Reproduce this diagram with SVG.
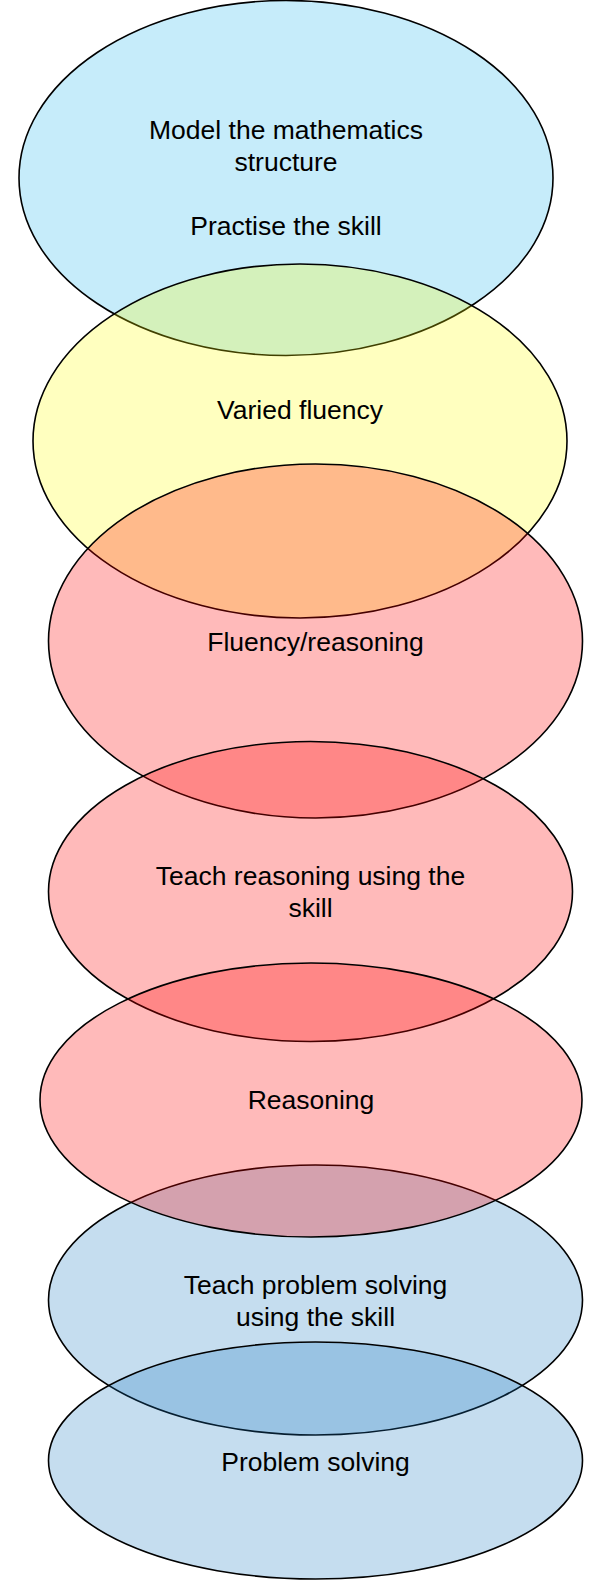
<svg xmlns="http://www.w3.org/2000/svg" width="594" height="1581" viewBox="0 0 594 1581">
<style>
  .e { stroke: #000; stroke-width: 1.6; }
  .blue { fill: rgb(27,179,235); fill-opacity: 0.25; }
  .yellow { fill: #FFFF00; fill-opacity: 0.25; }
  .red { fill: #FF0000; fill-opacity: 0.27; }
  .steel { fill: rgb(23,119,191); fill-opacity: 0.25; }
  text { font-family: "Liberation Sans", Arial, sans-serif; font-size: 26.5px; fill: #000; text-anchor: middle; }
</style>
<rect width="594" height="1581" fill="#FFFFFF"/>
<g id="node-model">
  <ellipse class="e blue" cx="286" cy="178" rx="267" ry="177.5"/>
  <text x="286" y="139">Model the mathematics</text>
  <text x="286" y="171">structure</text>
  <text x="286" y="235">Practise the skill</text>
</g>
<g id="node-varied-fluency">
  <ellipse class="e yellow" cx="300" cy="441" rx="267" ry="177"/>
  <text x="300" y="419">Varied fluency</text>
</g>
<g id="node-fluency-reasoning">
  <ellipse class="e red" cx="315.5" cy="641" rx="267" ry="177"/>
  <text x="315.5" y="651">Fluency/reasoning</text>
</g>
<g id="node-teach-reasoning">
  <ellipse class="e red" cx="310.5" cy="891.5" rx="262" ry="150"/>
  <text x="310.5" y="885">Teach reasoning using the</text>
  <text x="310.5" y="917">skill</text>
</g>
<g id="node-teach-problem-solving">
  <ellipse class="e steel" cx="315.5" cy="1300" rx="267" ry="135"/>
  <text x="315.5" y="1294">Teach problem solving</text>
  <text x="315.5" y="1326">using the skill</text>
</g>
<g id="node-reasoning">
  <ellipse class="e red" cx="311" cy="1100" rx="271" ry="137"/>
  <text x="311" y="1109">Reasoning</text>
</g>
<g id="node-problem-solving">
  <ellipse class="e steel" cx="315.5" cy="1460.5" rx="267" ry="118.5"/>
  <text x="315.5" y="1471">Problem solving</text>
</g>
<g id="connectors"></g>
</svg>
